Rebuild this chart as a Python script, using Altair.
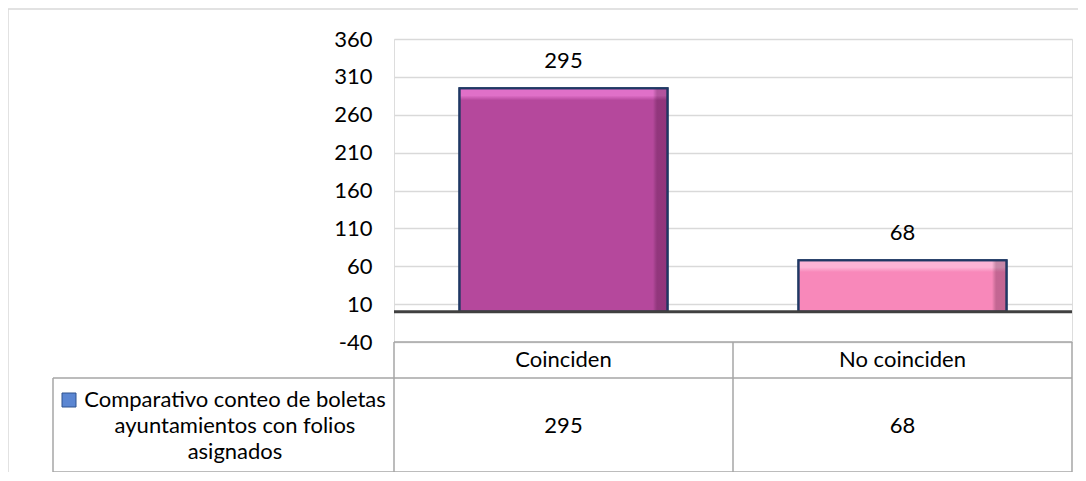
import altair as alt
import pandas as pd

categories = ["Coinciden", "No coinciden"]
values = [295, 68]
bar_colors = ["#b5489c", "#f888ba"]
bar_tops = ["#e070c8", "#fcb4d6"]
bar_bevel = [0.054, 0.23]
series_lines = ["Comparativo conteo de boletas", "ayuntamientos con folios", "asignados"]
y_ticks = [-40, 10, 60, 110, 160, 210, 260, 310, 360]

df = pd.DataFrame({"cat": categories, "val": values})
one = pd.DataFrame({"k": [0]})

FONT = "Lato"
FS = 22
W, H = 678, 303
GRID = "#d9d9d9"
TABLE = "#a6a6a6"

xenc = alt.X("cat:N", sort=categories, axis=None,
             scale=alt.Scale(paddingInner=0.386, paddingOuter=0.193))
yscale = alt.Scale(domain=[-40, 360], nice=False, zero=False)
yaxis = alt.Axis(values=y_ticks, tickCount=len(y_ticks), grid=True, gridColor=GRID,
                 gridWidth=1.5, domain=False, ticks=False, labelPadding=22,
                 labelOverlap=False, labelExpr="'' + datum.value", title=None,
                 labelFontSize=FS, labelFont=FONT, labelColor="#000000")
yenc = alt.Y("val:Q", scale=yscale, title=None)

base = alt.Chart(df)
single = alt.Chart(one)

# axis / grid layer (invisible bars carrying the axis)
axis_layer = base.mark_bar(opacity=0).encode(
    x=xenc, y=alt.Y("val:Q", scale=yscale, axis=yaxis), y2=alt.datum(0))

bar_layers = []
for i, c in enumerate(categories):
    b = bar_bevel[i]
    grad = alt.Gradient(
        gradient="linear", x1=0, x2=0, y1=0, y2=1,
        stops=[alt.GradientStop(color=bar_tops[i], offset=0),
               alt.GradientStop(color=bar_tops[i], offset=b * 0.6),
               alt.GradientStop(color=bar_colors[i], offset=b),
               alt.GradientStop(color=bar_colors[i], offset=1)])
    layer = base.transform_filter(alt.datum.cat == c).mark_bar(
        color=grad, stroke="#1f3864", strokeWidth=2).encode(
        x=xenc, y=yenc, y2=alt.datum(0))
    bar_layers.append(layer)

shade = alt.Gradient(
    gradient="linear", x1=0, x2=1, y1=0, y2=0,
    stops=[alt.GradientStop(color="rgba(0,0,0,0)", offset=0),
           alt.GradientStop(color="rgba(0,0,0,0)", offset=0.93),
           alt.GradientStop(color="rgba(40,0,30,0.25)", offset=0.95),
           alt.GradientStop(color="rgba(40,0,30,0.25)", offset=1)])
bar_shade = base.mark_bar(color=shade, stroke="#1f3864", strokeWidth=2).encode(
    x=xenc, y=yenc, y2=alt.datum(0))

zero_rule = single.mark_rule(color="#404040", strokeWidth=3).encode(
    y=alt.datum(0), x=alt.value(0), x2=alt.value(W))

labels = base.mark_text(font=FONT, fontSize=FS, dy=-27, color="#000000").encode(
    x=xenc, y=yenc, text="val:Q")

hdr = base.mark_text(font=FONT, fontSize=FS, color="#000000").encode(
    x=xenc, y=alt.value(321), text="cat:N")
vals = base.mark_text(font=FONT, fontSize=FS, color="#000000").encode(
    x=xenc, y=alt.value(387), text="val:Q")

def hline(y, x1, x2, color=TABLE, w=1.5):
    return single.mark_rule(color=color, strokeWidth=w).encode(
        x=alt.value(x1), x2=alt.value(x2), y=alt.value(y))

def vline(x, y1, y2, color=TABLE, w=1.5):
    return single.mark_rule(color=color, strokeWidth=w).encode(
        x=alt.value(x), y=alt.value(y1), y2=alt.value(y2))

BOT = 433
table_lines = [
    hline(303, 0, W), hline(339, -341, W), hline(BOT, -341, W),
    vline(-341, 339, BOT), vline(0, 303, BOT), vline(W / 2, 303, BOT), vline(W, 303, BOT),
]
frame = [hline(-30, -386, 700, GRID, 1.5), vline(-386, -30, 460, GRID, 1.5)]

legend_sq = single.mark_rect(color="#5b86d2", stroke="#2f528f", strokeWidth=1).encode(
    x=alt.value(-332), x2=alt.value(-318), y=alt.value(354), y2=alt.value(368))
legend_txt = single.mark_text(font=FONT, fontSize=FS, color="#000000", lineHeight=26,
                              text=series_lines, align="center", baseline="middle").encode(
    x=alt.value(-159), y=alt.value(361))

chart = alt.layer(axis_layer, *frame, *bar_layers, bar_shade, zero_rule, labels, hdr, vals,
                  *table_lines, legend_sq, legend_txt).properties(
    width=W, height=H,
    autosize=alt.AutoSizeParams(type="none"),
    padding={"left": 386, "top": 31, "right": 6, "bottom": 130},
).configure_view(stroke=None).configure(background="#ffffff")

chart.save("out.html", embed_options={"renderer": "svg", "actions": False})
